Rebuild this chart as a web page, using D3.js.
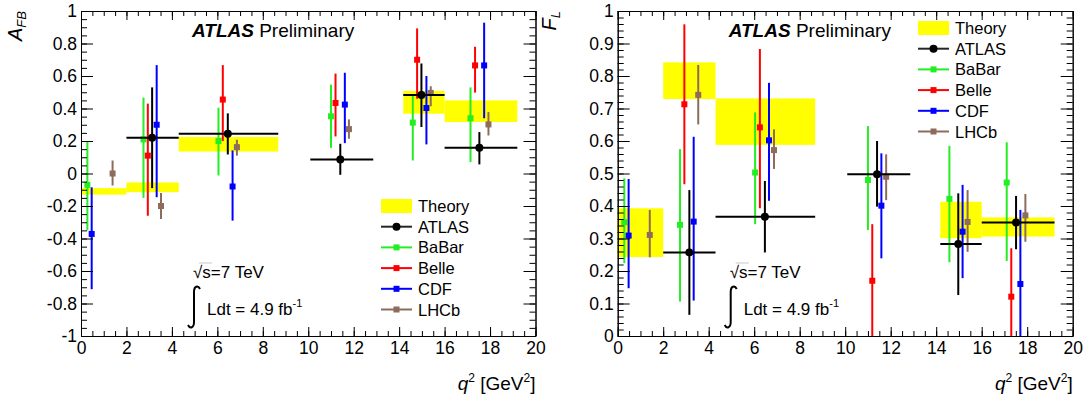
<!DOCTYPE html>
<html>
<head>
<meta charset="utf-8">
<script src="https://cdn.jsdelivr.net/npm/d3@7"></script>
<style>
  body { margin: 0; background: #fff; }
  text { font-family: "Liberation Sans", Arial, Helvetica, sans-serif; }
</style>
</head>
<body>
<div id="chart"></div>
<script>
// ---- data: [q2, value, errTop, errBottom] ----
// theory boxes: [qLow, qHigh, yLow, yHigh]
var afbTheory = [[0, 2, -0.13, -0.09], [2, 4.3, -0.115, -0.055], [4.3, 8.68, 0.135, 0.225], [14.18, 16, 0.368, 0.508], [16, 19.2, 0.317, 0.45]];
var afbAtlas = [[3.13, 0.22, 0.53, -0.09], [6.46, 0.245, 0.37, 0.117], [11.41, 0.086, 0.183, -0.008], [14.98, 0.483, 0.677, 0.286], [17.53, 0.159, 0.255, 0.056]];
var afbBabar = [[0.28, -0.07, 0.20, -0.35], [2.75, 0.21, 0.467, -0.15], [6.05, 0.20, 0.405, -0.012], [11.0, 0.352, 0.547, 0.158], [14.6, 0.313, 0.48, 0.08], [17.14, 0.34, 0.53, 0.07]];
var afbBelle = [[2.94, 0.11, 0.43, -0.26], [6.24, 0.455, 0.667, 0.20], [11.2, 0.434, 0.615, 0.228], [14.79, 0.70, 0.893, 0.46], [17.34, 0.665, 0.78, 0.498]];
var afbCdf = [[0.47, -0.372, -0.085, -0.712], [3.33, 0.30, 0.667, -0.146], [6.67, -0.08, 0.142, -0.29], [11.61, 0.424, 0.62, 0.187], [15.2, 0.403, 0.60, 0.179], [17.74, 0.665, 0.928, 0.34]];
var afbLhcb = [[1.39, 0.0, 0.08, -0.074], [3.52, -0.20, -0.12, -0.28], [6.86, 0.162, 0.208, 0.11], [11.79, 0.273, 0.333, 0.214], [15.39, 0.496, 0.537, 0.414], [17.93, 0.302, 0.378, 0.234]];

var flTheory = [[0, 2, 0.243, 0.393], [2, 4.3, 0.729, 0.842], [4.3, 8.68, 0.588, 0.731], [14.18, 16, 0.301, 0.413], [16, 19.2, 0.306, 0.365]];
var flAtlas = [[3.15, 0.257, 0.449, 0.065], [6.47, 0.367, 0.477, 0.257], [11.4, 0.498, 0.60, 0.398], [14.97, 0.283, 0.439, 0.126], [17.51, 0.349, 0.431, 0.267]];
var flBabar = [[0.29, 0.35, 0.485, 0.224], [2.74, 0.342, 0.575, 0.106], [6.04, 0.503, 0.688, 0.344], [11.0, 0.48, 0.646, 0.326], [14.58, 0.422, 0.585, 0.227], [17.1, 0.472, 0.596, 0.231]];
var flBelle = [[2.93, 0.713, 0.959, 0.467], [6.25, 0.642, 0.883, 0.393], [11.19, 0.17, 0.344, 0.0], [17.3, 0.121, 0.27, 0.0]];
var flCdf = [[0.48, 0.309, 0.483, 0.147], [3.34, 0.352, 0.613, 0.109], [6.65, 0.602, 0.779, 0.416], [11.59, 0.401, 0.562, 0.239], [15.16, 0.321, 0.465, 0.178], [17.7, 0.16, 0.388, 0.0]];
var flLhcb = [[1.41, 0.311, 0.388, 0.242], [3.54, 0.742, 0.834, 0.651], [6.87, 0.572, 0.636, 0.514], [11.8, 0.49, 0.559, 0.418], [15.38, 0.351, 0.449, 0.259], [17.92, 0.371, 0.437, 0.29]];

// ATLAS bin edges (horizontal bars)
var atlasBins = [[2, 4.3], [4.3, 8.68], [10.09, 12.86], [14.18, 16], [16, 19.2]];

var legendNames = ['ATLAS', 'BaBar', 'Belle', 'CDF', 'LHCb'];
var expColors = {ATLAS: '#000000', BaBar: '#22ee22', Belle: '#ff0000', CDF: '#0000ff', LHCb: '#8c6c5c'};

var svgWidth = 1091, svgHeight = 396;
var svg = d3.select('#chart').append('svg')
    .attr('width', svgWidth)
    .attr('height', svgHeight);

function steps(lo, hi, st) {
    var n = Math.round((hi - lo) / st);
    return d3.range(n + 1).map(function(i){ return Math.round((lo + i * st) * 1000) / 1000; });
}

function drawPanel(cfg) {
    var g = svg.append('g');
    var x = d3.scaleLinear().domain([0, 20]).range([cfg.left, cfg.right]);
    var y = d3.scaleLinear().domain(cfg.yDomain).range([cfg.bottom, cfg.top]);

    // theory boxes
    g.selectAll('rect.theory').data(cfg.theory).enter().append('rect')
        .attr('class', 'theory')
        .attr('x', d => x(d[0]))
        .attr('width', d => x(d[1]) - x(d[0]))
        .attr('y', d => y(d[3]))
        .attr('height', d => y(d[2]) - y(d[3]))
        .attr('fill', '#ffff00');

    // experiments
    var order = ['BaBar', 'Belle', 'CDF', 'LHCb', 'ATLAS'];
    order.forEach(function(name){
        var pts = cfg.sets[name];
        var col = expColors[name];
        var eg = g.append('g');
        eg.selectAll('line.err').data(pts).enter().append('line')
            .attr('x1', d => x(d[0])).attr('x2', d => x(d[0]))
            .attr('y1', d => y(d[2])).attr('y2', d => y(Math.max(d[3], cfg.yDomain[0])))
            .attr('stroke', col).attr('stroke-width', 2);
        if (name === 'ATLAS') {
            eg.selectAll('line.bin').data(pts).enter().append('line')
                .attr('x1', (d, i) => x(atlasBins[i][0])).attr('x2', (d, i) => x(atlasBins[i][1]))
                .attr('y1', d => y(d[1])).attr('y2', d => y(d[1]))
                .attr('stroke', col).attr('stroke-width', 2);
            eg.selectAll('circle').data(pts).enter().append('circle')
                .attr('cx', d => x(d[0])).attr('cy', d => y(d[1]))
                .attr('r', 4).attr('fill', col);
        } else {
            eg.selectAll('rect').data(pts).enter().append('rect')
                .attr('x', d => x(d[0]) - 3).attr('y', d => y(d[1]) - 3)
                .attr('width', 6).attr('height', 6).attr('fill', col);
        }
    });

    // axes, ticks pointing inside the frame
    var xMajor = steps(0, 20, 2), xMinor = steps(0, 20, 0.5);
    var yMajor = steps(cfg.yDomain[0], cfg.yDomain[1], cfg.yStep);
    var yMinor = steps(cfg.yDomain[0], cfg.yDomain[1], cfg.yMinor);

    function style(sel) {
        sel.selectAll('path, line').attr('stroke', '#000').attr('stroke-width', 1);
        sel.attr('font-size', 17.5).attr('font-family', '"Liberation Sans", Arial, sans-serif');
        sel.selectAll('text').attr('fill', '#000');
    }

    g.append('g').attr('transform', 'translate(0,' + cfg.bottom + ')')
        .call(d3.axisBottom(x).tickValues(xMajor).tickSize(-9).tickSizeOuter(0).tickPadding(6).tickFormat(d3.format('d')))
        .call(style);
    g.append('g').attr('transform', 'translate(0,' + cfg.bottom + ')')
        .call(d3.axisBottom(x).tickValues(xMinor).tickSize(-5).tickSizeOuter(0).tickFormat(''))
        .call(style);
    g.append('g').attr('transform', 'translate(0,' + cfg.top + ')')
        .call(d3.axisTop(x).tickValues(xMajor).tickSize(-9).tickSizeOuter(0).tickFormat(''))
        .call(style);
    g.append('g').attr('transform', 'translate(0,' + cfg.top + ')')
        .call(d3.axisTop(x).tickValues(xMinor).tickSize(-5).tickSizeOuter(0).tickFormat(''))
        .call(style);

    g.append('g').attr('transform', 'translate(' + cfg.left + ',0)')
        .call(d3.axisLeft(y).tickValues(yMajor).tickSize(-12).tickSizeOuter(0).tickPadding(4)
            .tickFormat(d => String(Math.round(d * 10) / 10)))
        .call(style);
    g.append('g').attr('transform', 'translate(' + cfg.left + ',0)')
        .call(d3.axisLeft(y).tickValues(yMinor).tickSize(-6).tickSizeOuter(0).tickFormat(''))
        .call(style);
    g.append('g').attr('transform', 'translate(' + cfg.right + ',0)')
        .call(d3.axisRight(y).tickValues(yMajor).tickSize(-12).tickSizeOuter(0).tickFormat(''))
        .call(style);
    g.append('g').attr('transform', 'translate(' + cfg.right + ',0)')
        .call(d3.axisRight(y).tickValues(yMinor).tickSize(-6).tickSizeOuter(0).tickFormat(''))
        .call(style);

    // y title
    var yt = g.append('text')
        .attr('transform', 'translate(' + cfg.yTitleX + ',' + cfg.top + ') rotate(-90)')
        .attr('text-anchor', 'end').attr('font-size', 20).attr('font-style', 'italic');
    yt.append('tspan').text(cfg.yTitle[0]);
    yt.append('tspan').attr('font-size', 13).attr('dy', 4).text(cfg.yTitle[1]);

    // x title
    var xt = g.append('text').attr('x', cfg.right).attr('y', 390)
        .attr('text-anchor', 'end').attr('font-size', 19);
    xt.append('tspan').attr('font-style', 'italic').text('q');
    xt.append('tspan').attr('font-size', 12).attr('dy', -8).text('2');
    xt.append('tspan').attr('dy', 8).text(' [GeV');
    xt.append('tspan').attr('font-size', 12).attr('dy', -8).text('2');
    xt.append('tspan').attr('dy', 8).text(']');

    // ATLAS label
    var al = g.append('text').attr('x', cfg.left + 111).attr('y', 37).attr('font-size', 19);
    al.append('tspan').attr('font-weight', 'bold').attr('font-style', 'italic').text('ATLAS');
    al.append('tspan').text(' Preliminary');

    // sqrt(s) and luminosity
    var sx = cfg.left + 112;
    g.append('text').attr('x', sx).attr('y', 278).attr('font-size', 17).text('\u221As=7 TeV');
    g.append('line').attr('x1', sx + 6).attr('x2', sx + 19).attr('y1', 263).attr('y2', 263)
        .attr('stroke', '#bbb').attr('stroke-width', 0.8);
    g.append('path')
        .attr('d', 'M' + (sx + 7) + ',289 C' + (sx + 5) + ',285 ' + (sx + 1) + ',286 ' + (sx + 1) + ',292 L' + (sx + 1) + ',322 C' + (sx + 1) + ',328 ' + (sx - 3) + ',329 ' + (sx - 5) + ',325')
        .attr('fill', 'none').attr('stroke', '#000').attr('stroke-width', 2);
    var lt = g.append('text').attr('x', sx + 14).attr('y', 315).attr('font-size', 17);
    lt.append('tspan').text('Ldt = 4.9 fb');
    lt.append('tspan').attr('font-size', 11).attr('dy', -8).text('-1');

    // legend
    var lx = cfg.legX, ly = cfg.legY, sp = 20.7;
    g.append('rect').attr('x', lx).attr('y', ly - 7).attr('width', 31).attr('height', 14).attr('fill', '#ffff00');
    g.append('text').attr('x', lx + 37).attr('y', ly + 6).attr('font-size', 16.5).text('Theory');
    legendNames.forEach(function(name, i){
        var yy = ly + sp * (i + 1);
        var col = expColors[name];
        g.append('line').attr('x1', lx).attr('x2', lx + 31).attr('y1', yy).attr('y2', yy)
            .attr('stroke', col).attr('stroke-width', 2).attr('stroke-opacity', name === 'ATLAS' ? 0.85 : 1);
        if (name === 'ATLAS') {
            g.append('circle').attr('cx', lx + 15.5).attr('cy', yy).attr('r', 4).attr('fill', col);
        } else {
            g.append('rect').attr('x', lx + 12.5).attr('y', yy - 3).attr('width', 6).attr('height', 6).attr('fill', col);
        }
        g.append('text').attr('x', lx + 37).attr('y', yy + 6).attr('font-size', 16.5).text(name);
    });
}

drawPanel({
    left: 81, right: 535.5, top: 11, bottom: 336,
    yDomain: [-1, 1], yStep: 0.2, yMinor: 0.05,
    theory: afbTheory,
    sets: {ATLAS: afbAtlas, BaBar: afbBabar, Belle: afbBelle, CDF: afbCdf, LHCb: afbLhcb},
    yTitle: ['A', 'FB'], yTitleX: 22,
    legX: 381, legY: 206
});

drawPanel({
    left: 617.7, right: 1072.7, top: 11, bottom: 336,
    yDomain: [0, 1], yStep: 0.1, yMinor: 0.02,
    theory: flTheory,
    sets: {ATLAS: flAtlas, BaBar: flBabar, Belle: flBelle, CDF: flCdf, LHCb: flLhcb},
    yTitle: ['F', 'L'], yTitleX: 556,
    legX: 918, legY: 28
});
</script>
</body>
</html>
